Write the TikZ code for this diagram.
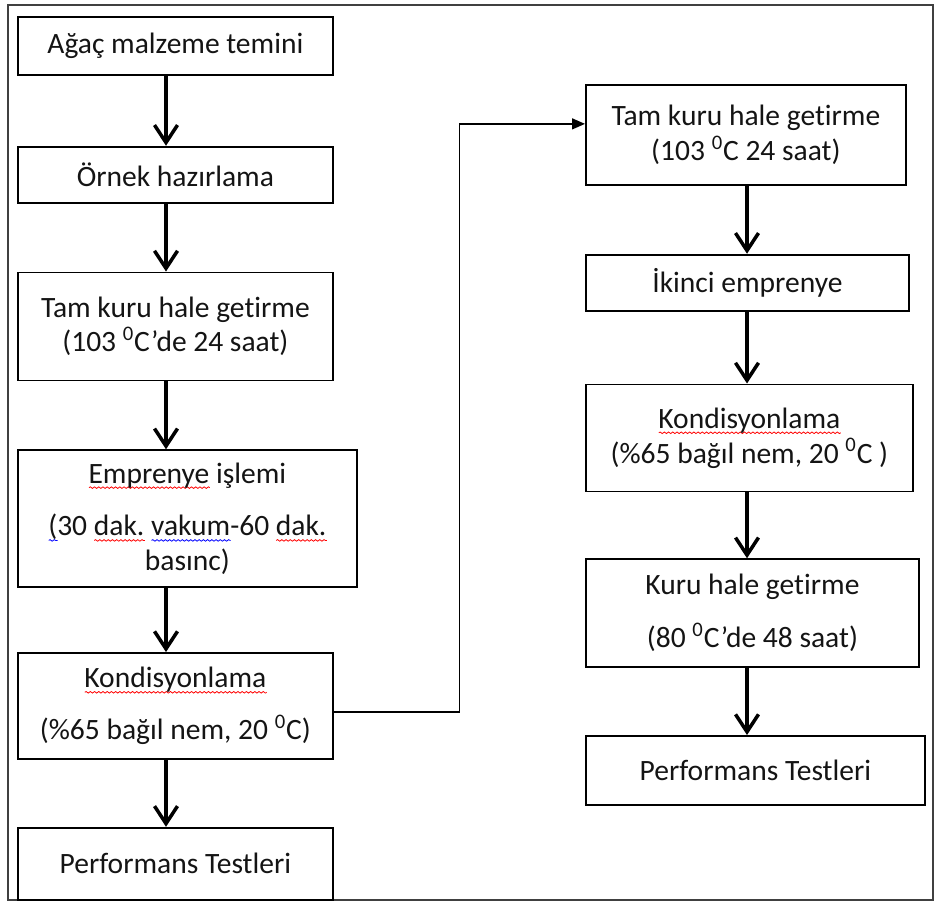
\documentclass[tikz,border=0pt]{standalone}
\usepackage{fontspec}
\setmainfont{Carlito}[Ligatures=NoCommon]
\usetikzlibrary{positioning, arrows.meta, decorations.pathmorphing}
\newsavebox\spellbox
\newcommand\spellmark[2]{\sbox\spellbox{#2}\rlap{\tikz[baseline=0pt]\draw[#1, line width=0.45pt, decorate, decoration={snake, amplitude=0.45pt, segment length=2.4pt}] (0,-2.6pt) -- (\wd\spellbox,-2.6pt);}\usebox\spellbox}
\newcommand\spellred[1]{\spellmark{red}{#1}}
\newcommand\spellblue[1]{\spellmark{blue}{#1}}
\tikzstyle{process} = [rectangle, draw=black, line width=1pt, text centered, align=center, inner sep=2pt, font=\fontsize{16.8}{19.8}\selectfont, text=black!92]
\tikzstyle{arrow} = [line width=2pt, -{Straight Barb[length=3.5mm,width=4.6mm]}]
\tikzstyle{link} = [line width=0.8pt, -{Triangle[length=2.6mm,width=2.2mm]}]

\begin{document}
\begin{tikzpicture}
\useasboundingbox (0,0) rectangle (18.74,-18.1);
\draw[line width=1pt, black!75] (0.16,-0.1) rectangle (18.66,-18.0);
\coordinate (ax) at (3.32,0);
\coordinate (rx) at (14.94,0);
% left column
\node (b1) [process, minimum width=6.3cm, minimum height=1.16cm, anchor=north west] at (0.34,-0.32) {Ağaç malzeme temini};
\node (b2) [process, minimum width=6.3cm, minimum height=1.12cm, below=1.4cm of b1.south west, anchor=north west] {Örnek hazırlama};
\node (b3) [process, minimum width=6.3cm, minimum height=2.16cm, below=1.36cm of b2.south west, anchor=north west] {Tam kuru hale getirme\\(103 \textsuperscript{0}C’de 24 saat)};
\node (b4) [process, minimum width=6.78cm, minimum height=2.74cm, below=1.36cm of b3.south west, anchor=north west] {\spellred{Emprenye} işlemi\\[0.36cm]\spellblue{(}30 \spellred{dak.} \spellblue{vakum}-60 \spellred{dak.}\\basınc)};
\node (b5) [process, minimum width=6.3cm, minimum height=2.12cm, below=1.28cm of b4.south west, anchor=north west] {\spellred{Kondisyonlama}\\[0.34cm](\%65 bağıl nem, 20 \textsuperscript{0}C)};
\node (b6) [process, minimum width=6.3cm, minimum height=1.44cm, below=1.34cm of b5.south west, anchor=north west] {Performans Testleri};
% right column
\node (r1) [process, minimum width=6.4cm, minimum height=2.0cm, anchor=north west] at (11.7,-1.68) {Tam kuru hale getirme\\(103 \textsuperscript{0}C 24 saat)};
\node (r2) [process, minimum width=6.46cm, minimum height=1.12cm, below=1.36cm of r1.south west, anchor=north west] {İkinci emprenye};
\node (r3) [process, minimum width=6.54cm, minimum height=2.14cm, below=1.44cm of r2.south west, anchor=north west] {\spellred{Kondisyonlama}\\(\%65 bağıl nem, 20 \textsuperscript{0}C )};
\node (r4) [process, minimum width=6.66cm, minimum height=2.16cm, below=1.32cm of r3.south west, anchor=north west] {Kuru hale getirme\\[0.36cm](80 \textsuperscript{0}C’de 48 saat)};
\node (r5) [process, minimum width=6.78cm, minimum height=1.38cm, below=1.34cm of r4.south west, anchor=north west] {Performans Testleri};
\draw [arrow] (b1.south -| ax) -- (b2.north -| ax);
\draw [arrow] (b2.south -| ax) -- (b3.north -| ax);
\draw [arrow] (b3.south -| ax) -- (b4.north -| ax);
\draw [arrow] (b4.south -| ax) -- (b5.north -| ax);
\draw [arrow] (b5.south -| ax) -- (b6.north -| ax);
\draw [link] ([yshift=-0.12cm]b5.east) -- ++(2.52,0) |- ([yshift=0.22cm]r1.west);
\draw [arrow] (r1.south -| rx) -- (r2.north -| rx);
\draw [arrow] (r2.south -| rx) -- (r3.north -| rx);
\draw [arrow] (r3.south -| rx) -- (r4.north -| rx);
\draw [arrow] (r4.south -| rx) -- (r5.north -| rx);
\end{tikzpicture}
\end{document}
